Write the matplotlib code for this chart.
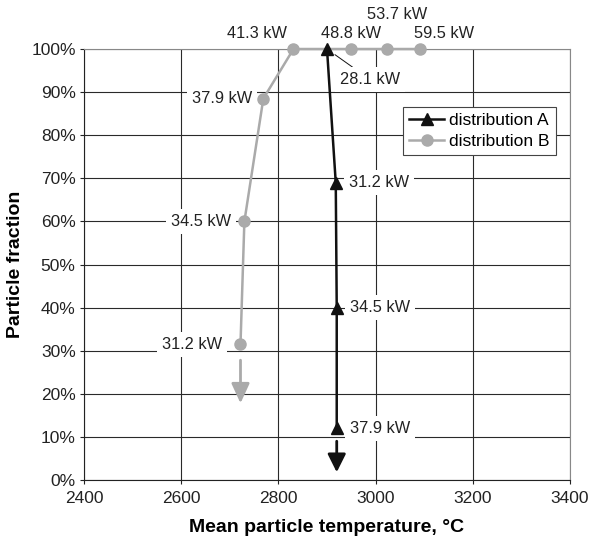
import matplotlib
matplotlib.use("Agg")
import matplotlib.pyplot as plt
import matplotlib.ticker as tick

plt.rcParams["font.family"] = ["Liberation Sans", "DejaVu Sans"]

# distribution A (black, triangles)
temp_a = [2900, 2918, 2920, 2920]
frac_a = [100, 69, 40, 12]
power_a = ["28.1 kW", "31.2 kW", "34.5 kW", "37.9 kW"]

# distribution B (grey, circles)
temp_b = [2722, 2730, 2769, 2831, 2950, 3024, 3092]
frac_b = [31.5, 60, 88.5, 100, 100, 100, 100]
power_b = ["31.2 kW", "34.5 kW", "37.9 kW", "41.3 kW", "48.8 kW", "53.7 kW", "59.5 kW"]

x_ticks = [2400, 2600, 2800, 3000, 3200, 3400]
y_ticks = [0, 10, 20, 30, 40, 50, 60, 70, 80, 90, 100]

# label offsets (points)
off_a = [(31, -22), (31, 0), (31, 0), (31, 0)]
off_b = [(-35, 0), (-31, 0), (-30, 0), (-26, 11.5), (0, 11.5), (7, 24.5), (17, 11.5)]

BLACK = "#111111"
GREY = "#aaaaaa"

fig = plt.figure(figsize=(5.97, 5.38), dpi=100)
ax = fig.add_axes([0.1407, 0.1078, 0.8141, 0.8011])

ax.plot(temp_a, frac_a, color=BLACK, lw=1.8, marker="^", ms=9,
        label="distribution A", clip_on=False, zorder=4)
ax.plot(temp_b, frac_b, color=GREY, lw=1.8, marker="o", ms=8,
        label="distribution B", clip_on=False, zorder=3)

# downward arrows
ax.annotate("", xy=(temp_b[0], 17.8), xytext=(temp_b[0], 27.8),
            arrowprops=dict(arrowstyle="-|>,head_length=1.2,head_width=0.55",
                            lw=2.0, color=GREY, shrinkA=0, shrinkB=0))
ax.annotate("", xy=(temp_a[-1], 1.8), xytext=(temp_a[-1], 9.0),
            arrowprops=dict(arrowstyle="-|>,head_length=1.1,head_width=0.55",
                            lw=2.0, color=BLACK, shrinkA=0, shrinkB=0))

box = dict(boxstyle="square,pad=0.3", fc="white", ec="none")
for x, y, s, o in zip(temp_a, frac_a, power_a, off_a):
    kw = {}
    if o[1] != 0:
        kw["arrowprops"] = dict(arrowstyle="-", lw=0.7, color=BLACK,
                                shrinkA=0, shrinkB=7)
    ax.annotate(s, (x, y), xytext=o, textcoords="offset points",
                ha="center", va="center", fontsize=11.8, color="#222222",
                bbox=box, annotation_clip=False, zorder=5, **kw)
for x, y, s, o in zip(temp_b, frac_b, power_b, off_b):
    bb = box if o[1] == 0 else None
    ax.annotate(s, (x, y), xytext=o, textcoords="offset points",
                ha="center", va="center", fontsize=11.8, color="#222222",
                bbox=bb, annotation_clip=False, zorder=5)

ax.set_xlim(2400, 3400)
ax.set_ylim(0, 100)
ax.set_xticks(x_ticks)
ax.set_yticks(y_ticks)
ax.yaxis.set_major_formatter(tick.FuncFormatter(lambda v, p: f"{v:.0f}%"))
ax.tick_params(direction="out", length=3, width=0.8, labelsize=12.5,
               colors="#222222", pad=3)
ax.tick_params(axis="x", pad=5)
ax.grid(True, color="#2a2a2a", lw=0.8, zorder=0)
ax.set_axisbelow(True)
ax.spines["left"].set_color("#222222")
ax.spines["bottom"].set_color("#222222")
ax.spines["top"].set_color("#888888")
ax.spines["right"].set_color("#888888")

ax.set_xlabel("Mean particle temperature, °C", fontsize=14,
              fontweight="bold", labelpad=9)
ax.set_ylabel("Particle fraction", fontsize=14, fontweight="bold",
              labelpad=5)

leg = ax.legend(loc="upper right", bbox_to_anchor=(0.971, 0.8654),
                borderaxespad=0, fancybox=False, edgecolor="#444444",
                fontsize=12.5, framealpha=1, handlelength=2.0,
                handletextpad=0.3, borderpad=0.35, labelspacing=0.3)
leg.get_frame().set_linewidth(0.8)
leg.set_zorder(6)

fig.savefig("out.png", dpi=100)
